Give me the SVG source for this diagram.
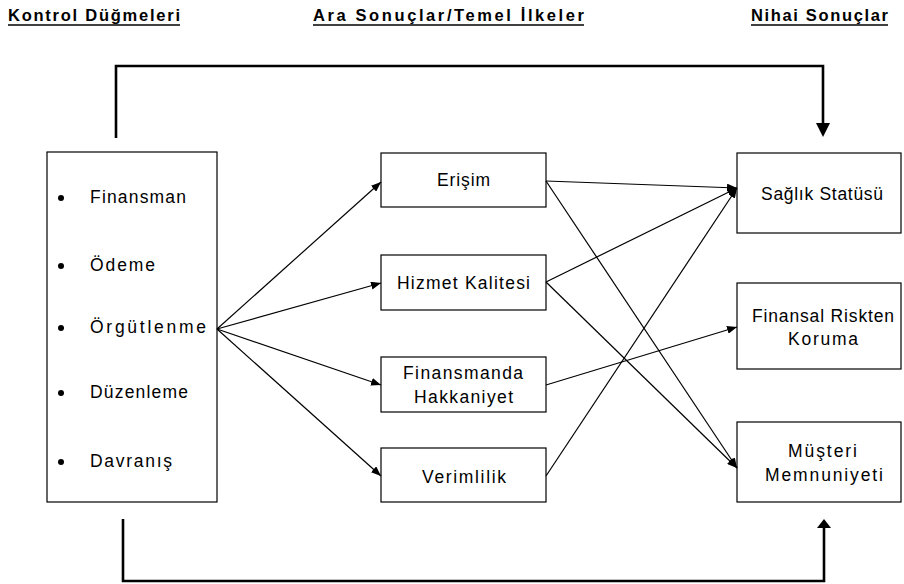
<svg xmlns="http://www.w3.org/2000/svg" width="904" height="584" viewBox="0 0 904 584">
<style>
.box{fill:#fff;stroke:#000;stroke-width:1.2}
.t{font-family:"Liberation Sans",Arial,sans-serif;font-size:17.5px;fill:#000}
.h{font-family:"Liberation Sans",Arial,sans-serif;font-size:16.5px;font-weight:bold;fill:#000}
.u{stroke:#000;stroke-width:1.3}
.c{fill:none;stroke:#000;stroke-width:1.2}
.thick{fill:none;stroke:#000;stroke-width:2.6}
</style>
<defs>
<marker id="ah" markerUnits="userSpaceOnUse" markerWidth="10" markerHeight="8" refX="10" refY="4" orient="auto">
<path d="M0,0 L10,4 L0,8 z" fill="#000"/>
</marker>
</defs>
<rect width="904" height="584" fill="#fff"/>
<g id="headers">
<text class="h" x="8" y="21" textLength="172" lengthAdjust="spacing">Kontrol Düğmeleri</text>
<line class="u" x1="8" y1="25" x2="180" y2="25"/>
<text class="h" x="313" y="21" textLength="271" lengthAdjust="spacing">Ara Sonuçlar/Temel İlkeler</text>
<line class="u" x1="313" y1="25" x2="584" y2="25"/>
<text class="h" x="751" y="21" textLength="137" lengthAdjust="spacing">Nihai Sonuçlar</text>
<line class="u" x1="751" y1="25" x2="888" y2="25"/>
</g>
<g id="kontrol">
<rect class="box" x="47" y="152" width="170" height="350"/>
<circle cx="61" cy="198" r="3"/>
<circle cx="61" cy="266" r="3"/>
<circle cx="61" cy="328" r="3"/>
<circle cx="61" cy="393" r="3"/>
<circle cx="61" cy="462" r="3"/>
<text class="t" x="90" y="203" textLength="96" lengthAdjust="spacing">Finansman</text>
<text class="t" x="90" y="271" textLength="65" lengthAdjust="spacing">Ödeme</text>
<text class="t" x="90" y="333" textLength="116" lengthAdjust="spacing">Örgütlenme</text>
<text class="t" x="90" y="398" textLength="98" lengthAdjust="spacing">Düzenleme</text>
<text class="t" x="90" y="467" textLength="82" lengthAdjust="spacing">Davranış</text>
</g>
<g id="erisim">
<rect class="box" x="381" y="153" width="165" height="54"/>
<text class="t" x="437" y="186" textLength="53" lengthAdjust="spacing">Erişim</text>
</g>
<g id="hizmet">
<rect class="box" x="381" y="255" width="165" height="55"/>
<text class="t" x="397" y="289" textLength="133" lengthAdjust="spacing">Hizmet Kalitesi</text>
</g>
<g id="hakkaniyet">
<rect class="box" x="381" y="357" width="165" height="55"/>
<text class="t" x="403" y="379" textLength="120" lengthAdjust="spacing">Finansmanda</text>
<text class="t" x="414" y="403" textLength="99" lengthAdjust="spacing">Hakkaniyet</text>
</g>
<g id="verimlilik">
<rect class="box" x="381" y="448" width="165" height="54"/>
<text class="t" x="422" y="483" textLength="84" lengthAdjust="spacing">Verimlilik</text>
</g>
<g id="saglik">
<rect class="box" x="737" y="153" width="164" height="80"/>
<text class="t" x="761" y="200" textLength="122" lengthAdjust="spacing">Sağlık Statüsü</text>
</g>
<g id="finansal">
<rect class="box" x="737" y="283" width="164" height="86"/>
<text class="t" x="752" y="322" textLength="142" lengthAdjust="spacing">Finansal Riskten</text>
<text class="t" x="788" y="345" textLength="70" lengthAdjust="spacing">Koruma</text>
</g>
<g id="musteri">
<rect class="box" x="737" y="422" width="164" height="80"/>
<text class="t" x="788" y="457" textLength="69" lengthAdjust="spacing">Müşteri</text>
<text class="t" x="765" y="481" textLength="118" lengthAdjust="spacing">Memnuniyeti</text>
</g>
<g id="connectors">
<line class="c" x1="217" y1="329" x2="381" y2="182" marker-end="url(#ah)"/>
<line class="c" x1="217" y1="329" x2="381" y2="283" marker-end="url(#ah)"/>
<line class="c" x1="217" y1="329" x2="381" y2="385" marker-end="url(#ah)"/>
<line class="c" x1="217" y1="329" x2="381" y2="476" marker-end="url(#ah)"/>
<line class="c" x1="546" y1="181" x2="737" y2="188" marker-end="url(#ah)"/>
<line class="c" x1="546" y1="181" x2="737" y2="468" marker-end="url(#ah)"/>
<line class="c" x1="546" y1="282" x2="737" y2="188" marker-end="url(#ah)"/>
<line class="c" x1="546" y1="282" x2="737" y2="468" marker-end="url(#ah)"/>
<line class="c" x1="546" y1="385" x2="737" y2="327" marker-end="url(#ah)"/>
<line class="c" x1="546" y1="476" x2="737" y2="188" marker-end="url(#ah)"/>
<path class="thick" d="M116,138 V66 H823 V125"/>
<polygon points="816,123 830,123 823,137" fill="#000"/>
<path class="thick" d="M123,519 V581 H824 V526"/>
<polygon points="817,528 831,528 824,519" fill="#000"/>
</g>
</svg>
